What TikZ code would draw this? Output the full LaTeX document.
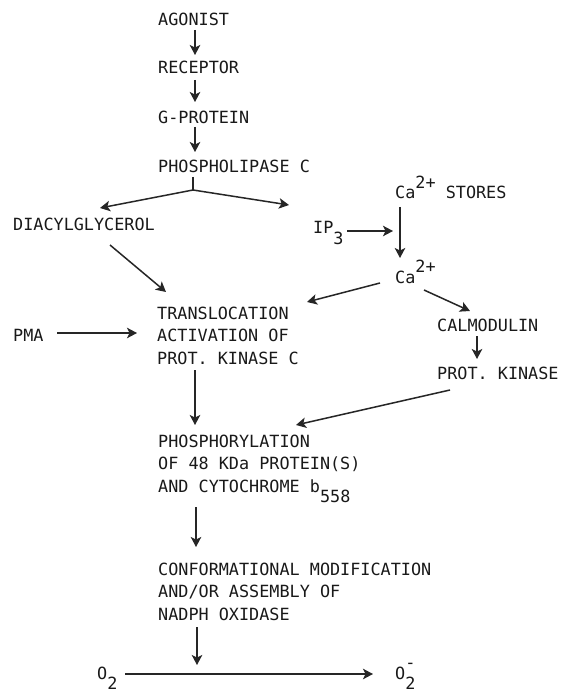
\documentclass[tikz,border=0pt]{standalone}
\usepackage{fontspec}
\usepackage{tikz}
\usetikzlibrary{arrows.meta, calc}

\newfontfamily\monofont{DejaVu Sans Mono}
\newcommand\suptxt[1]{\raisebox{0.62em}{#1}}
\newcommand\subtxt[1]{\raisebox{-0.62em}{#1}}

\begin{document}
\begin{tikzpicture}[
  x=1pt, y=-1pt,
  txt/.style={anchor=base west, inner sep=0pt, align=left,
              font={\monofont\fontsize{16.8pt}{22.5pt}\selectfont}, text=black!90},
  arr/.style={-{Stealth[length=10pt, width=10.5pt, inset=2.5pt]}, line width=1.5pt, draw=black!85},
  plain/.style={line width=1.5pt, draw=black!85}
]
  \useasboundingbox (0,0) rectangle (560,692);
  \fill[white] (0,0) rectangle (560,692);

  % Receptor chain
  \node[txt] (agonist) at (158,26) {AGONIST};
  \node[txt] (receptor) at (158,74) {RECEPTOR};
  \node[txt] (gprotein) at (158,124) {G-PROTEIN};
  \node[txt] (plc) at (158,173) {PHOSPHOLIPASE C};

  % Second messengers
  \node[txt] (dag) at (13,231) {DIACYLGLYCEROL};
  \node[txt] (ipthree) at (313,234) {IP\subtxt{3}};
  \node[txt] (castores) at (395,199) {Ca\suptxt{2+} STORES};
  \node[txt] (calcium) at (395,283) {Ca\suptxt{2+}};

  % Kinase C (base = last line)
  \node[txt] (pkc) at (157,364) {TRANSLOCATION\\ACTIVATION OF\\PROT. KINASE C};
  \node[txt] (pma) at (13,341) {PMA};

  % Calmodulin branch
  \node[txt] (calmodulin) at (437,331) {CALMODULIN};
  \node[txt] (protkinase) at (437,379) {PROT. KINASE};

  % Phosphorylation and oxidase (base = last line)
  \node[txt] (phosph) at (158,492) {PHOSPHORYLATION\\OF 48 KDa PROTEIN(S)\\AND CYTOCHROME b\subtxt{558}};
  \node[txt] (assembly) at (158,620) {CONFORMATIONAL MODIFICATION\\AND/OR ASSEMBLY OF\\NADPH OXIDASE};

  % Oxygen
  \node[txt] (oxygen) at (97,679) {O\subtxt{2}};
  \node[txt] (superoxide) at (395,679) {O\makebox[0pt][l]{\raisebox{0.65em}{-}}\subtxt{2}};

  % Arrows
  \draw[arr] ([shift={(37,4)}]agonist.base west) -- ([shift={(37,-19)}]receptor.base west);
  \draw[arr] ([shift={(37,6)}]receptor.base west) -- ([shift={(37,-22)}]gprotein.base west);
  \draw[arr] ([shift={(37,3)}]gprotein.base west) -- ([shift={(37,-21)}]plc.base west);
  \coordinate (split) at ([shift={(35,17)}]plc.base west);
  \draw[plain] ([shift={(35,4)}]plc.base west) -- (split);
  \draw[arr] (split) -- ([shift={(87,-23)}]dag.base west);
  \draw[arr] (split) -- ([shift={(-24,-29)}]ipthree.base west);
  \draw[arr] ([shift={(97,14)}]dag.base west) -- ([shift={(9,-72)}]pkc.base west);
  \draw[arr] ([shift={(34,-3)}]ipthree.base west) -- ([shift={(-2,32)}]castores.base west);
  \draw[arr] ([shift={(5,8)}]castores.base west) -- ([shift={(5,-25)}]calcium.base west);
  \draw[arr] ([shift={(-15,0)}]calcium.base west) -- ([shift={(150,-62)}]pkc.base west);
  \draw[arr] ([shift={(29,7)}]calcium.base west) -- ([shift={(33,-20)}]calmodulin.base west);
  \draw[arr] ([shift={(40,5)}]calmodulin.base west) -- ([shift={(40,-20)}]protkinase.base west);
  \draw[arr] ([shift={(13,11)}]protkinase.base west) -- ([shift={(138,-67)}]phosph.base west);
  \draw[arr] ([shift={(44,-8)}]pma.base west) -- ([shift={(-20,-31)}]pkc.base west);
  \draw[arr] ([shift={(38,6)}]pkc.base west) -- ([shift={(37,-67)}]phosph.base west);
  \draw[arr] ([shift={(38,15)}]phosph.base west) -- ([shift={(38,-73)}]assembly.base west);
  \draw[arr] ([shift={(39,7)}]assembly.base west) -- ([shift={(100,-14)}]oxygen.base west);
  \draw[arr] ([shift={(28,-5)}]oxygen.base west) -- ([shift={(-22,-5)}]superoxide.base west);
\end{tikzpicture}
\end{document}
